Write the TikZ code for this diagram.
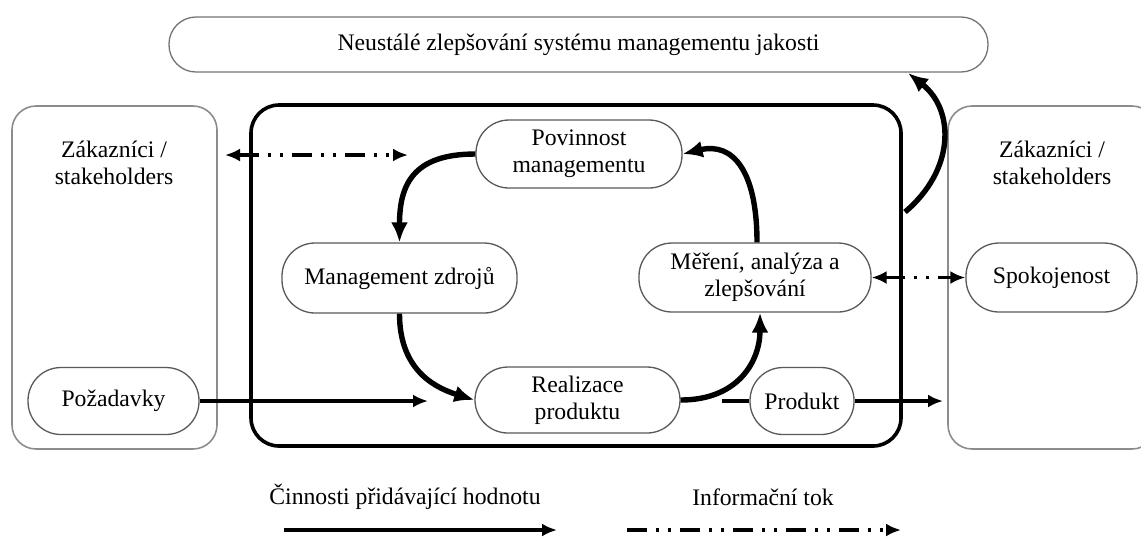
\documentclass[tikz,border=0pt]{standalone}
\usepackage{fontspec}
\setmainfont{Liberation Serif}
\usetikzlibrary{arrows.meta}
\begin{document}
\begin{tikzpicture}[x=0.5pt,y=-0.5pt,
  txt/.style={font=\fontsize{11.85}{13.5}\selectfont, align=center, text=black},
  bigbox/.style={draw=black!45, line width=0.8pt, rounded corners=12pt, inner sep=0pt},
  corebox/.style={draw=black, line width=1.8pt, rounded corners=14pt, inner sep=0pt},
  pill/.style={draw=black!65, line width=0.65pt, rounded corners=16.5pt, inner sep=0pt, fill=white, txt},
  flow/.style={line width=2.7pt, -{Latex[length=10pt,width=8.5pt]}},
  thinflow/.style={line width=1.6pt, -{Latex[length=7.5pt,width=6.5pt]}},
  info/.style={line width=1.6pt, dash pattern=on 10pt off 4.5pt on 1.5pt off 4.5pt on 1.5pt off 4.5pt},
  infotip/.style={-{Latex[length=7.5pt,width=6.5pt]}},
  infotips/.style={{Latex[length=7.5pt,width=6.5pt]}-{Latex[length=7.5pt,width=6.5pt]}},
]
\path[use as bounding box] (0,0) rectangle (1141,538);

% top box
\node[pill, draw=black!55, rounded corners=13.5pt, minimum width=409.5pt, minimum height=27.5pt] (top) at (578.5,44.5)
  {Neustálé zlepšování systému managementu jakosti};

% outer boxes
\node[bigbox, minimum width=102.5pt, minimum height=171.5pt] (leftbox) at (114.5,277.5) {};
\begin{scope}
  \clip (0,0) rectangle (1141,538);
  \node[bigbox, minimum width=104pt, minimum height=171.5pt] (rightbox) at (1052,277.5) {};
\end{scope}
\node[corebox, minimum width=325pt, minimum height=170.5pt] (core) at (576,275.5) {};

\node[txt] (lefttitle) at (114,163) {Zákazníci /\\stakeholders};
\node[txt] (righttitle) at (1052,163) {Zákazníci /\\stakeholders};

% process nodes
\node[pill, minimum width=103pt, minimum height=34pt] (pov) at (579,154) {Povinnost\\managementu};
\node[pill, minimum width=117.5pt, minimum height=35pt] (mz) at (399.5,278) {Management zdrojů};
\node[pill, minimum width=116pt, minimum height=34.5pt] (mer) at (755,277.5) {Měření, analýza a\\zlepšování};
\node[pill, minimum width=102.5pt, minimum height=33pt] (real) at (577.5,400) {Realizace\\produktu};
\node[pill, minimum width=52pt, minimum height=33.5pt] (prod) at (802,401) {Produkt};
\node[pill, minimum width=85.5pt, minimum height=33.5pt] (poz) at (113.5,401) {Požadavky};
\node[pill, minimum width=85.5pt, minimum height=34.5pt] (spok) at (1051.5,277.5) {Spokojenost};

% free ends
\coordinate (pozend) at (428,401);
\coordinate (prodstart) at (722,401);
\coordinate (prodend) at (943,401);
\coordinate (ia1) at (225,155);
\coordinate (ia2) at (408,155);
\coordinate (upstart) at (905,212);
\coordinate (upend) at (908,73);

% cycle arrows
\draw[flow] (pov.west) .. controls +(-62,0) and +(0,-58) .. (mz.north);
\draw[flow] (mz.south) .. controls +(0,52) and +(-45,-14) .. (real.west);
\draw[flow] (real.east) .. controls +(58,0) and +(0,48) .. ([xshift=2.5pt]mer.south);
\draw[flow] ([xshift=1pt]mer.north) .. controls +(0,-72) and +(50,-12) .. (pov.east);
\draw[flow] (upstart) .. controls (955,170) and (955,110) .. (upend);

% value-adding arrows
\draw[thinflow] (poz.east) -- (pozend);
\draw[line width=1.6pt] (prodstart) -- (prod.west);
\draw[thinflow] (prod.east) -- (prodend);

% information flows
\draw[info, infotips] (ia1) -- (ia2);
\draw[info, infotips] (mer.east) -- (spok.west);

% legend
\node[txt] (leg1) at (405,497) {Činnosti přidávající hodnotu};
\node[txt] (leg2) at (763,497) {Informační tok};
\coordinate (l1a) at (284,530);
\coordinate (l1b) at (557,530);
\coordinate (l2a) at (627,530);
\coordinate (l2b) at (901,530);
\draw[thinflow] (l1a) -- (l1b);
\draw[info, infotip] (l2a) -- (l2b);
\end{tikzpicture}
\end{document}
